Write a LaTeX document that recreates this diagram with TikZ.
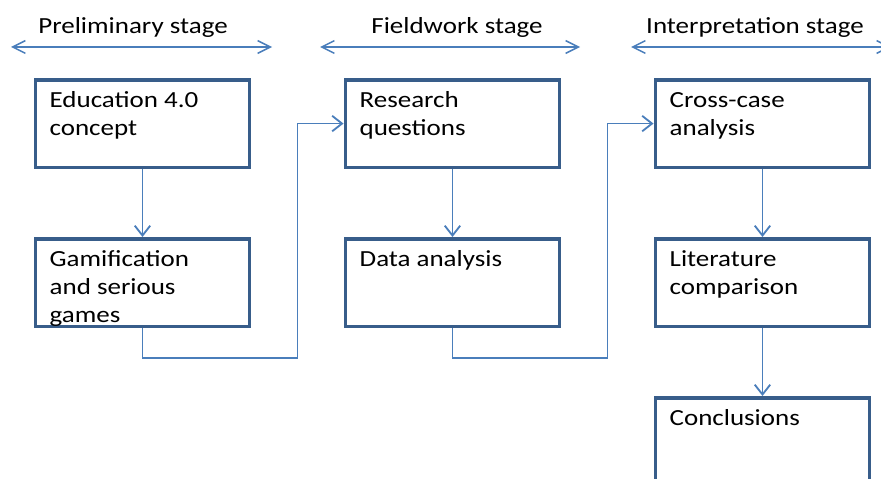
\documentclass[tikz,border=0pt]{standalone}
\usepackage{fontspec}
\setmainfont{Carlito}[FakeStretch=1.17]
\usepackage{tikz}
\usetikzlibrary{positioning, calc, arrows.meta}

\definecolor{boxline}{HTML}{385D8A}
\definecolor{flowline}{HTML}{4A7EBB}

\newcommand{\boxtext}[1]{\parbox[t][1.79cm][t]{4.64cm}{\strut #1}}

\tikzset{
  stagebox/.style={draw=boxline, line width=2.5pt, anchor=north west,
    minimum width=5.36cm, minimum height=2.19cm, inner xsep=0.36cm, inner ysep=0.2cm,
    font=\fontsize{16.4pt}{19.9pt}\selectfont},
  stagelabel/.style={anchor=base, inner sep=0pt, font=\fontsize{16.4pt}{19.9pt}\selectfont},
  flow/.style={draw=flowline, line width=1.3pt, -{Straight Barb[length=7pt,width=11pt]}},
  span/.style={draw=flowline, line width=1.1pt, {Straight Barb[length=9pt,width=9pt]}-{Straight Barb[length=9pt,width=9pt]}}
}

\begin{document}
\begin{tikzpicture}[x=0.025cm, y=-0.025cm]

  \useasboundingbox (0,0) rectangle (881,479);
  \clip (0,0) rectangle (881,479);

  % stage headers

  \node[stagelabel] (prelim) at (133,34) {Preliminary stage};
  \node[stagelabel] (field) at (457,34) {Fieldwork stage};
  \node[stagelabel] (interp) at (755,34) {Interpretation stage};

  \coordinate (prelimL) at (11,47);
  \coordinate (prelimR) at (272,47);
  \coordinate (fieldL) at (320,47);
  \coordinate (fieldR) at (580,47);
  \coordinate (interpL) at (631,47);
  \coordinate (interpR) at (891,47);

  \draw[span] (prelimL) -- (prelimR);
  \draw[span] (fieldL) -- (fieldR);
  \draw[span] (interpL) -- (interpR);

  % boxes

  \node[stagebox] (edu) at (33.5,78) {\boxtext{Education 4.0\\concept}};
  \node[stagebox] (gam) at ($(edu.north west)+(0,159)$) {\boxtext{Gamification\\and serious\\games}};

  \node[stagebox] (rq) at ($(edu.north west)+(310,0)$) {\boxtext{Research\\questions}};
  \node[stagebox] (da) at ($(rq.north west)+(0,159)$) {\boxtext{Data analysis}};

  \node[stagebox] (cca) at ($(rq.north west)+(310,0)$) {\boxtext{Cross-case\\analysis}};
  \node[stagebox] (lit) at ($(cca.north west)+(0,159)$) {\boxtext{Literature\\comparison}};
  \node[stagebox] (concl) at ($(lit.north west)+(0,159)$) {\boxtext{Conclusions}};

  % connectors

  \draw[flow] (edu.south) -- (gam.north);
  \draw[flow] (rq.south) -- (da.north);
  \draw[flow] (cca.south) -- (lit.north);
  \draw[flow] (lit.south) -- (concl.north);

  \draw[flow] (gam.south) -- ++(0,30) -| ($(gam.east)!.5!(da.west)$) |- (rq.west);
  \draw[flow] (da.south) -- ++(0,30) -| ($(da.east)!.5!(lit.west)$) |- (cca.west);

\end{tikzpicture}
\end{document}
